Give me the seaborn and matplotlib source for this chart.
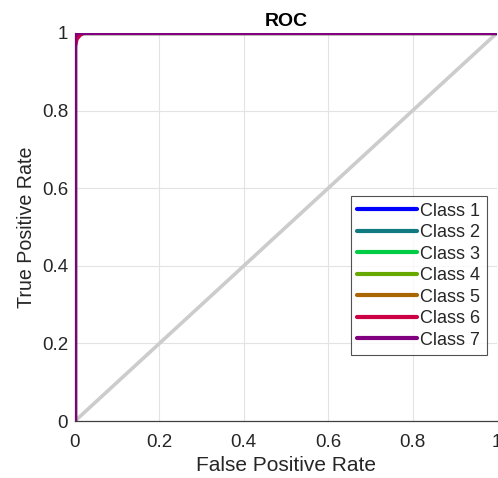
import matplotlib
matplotlib.use("Agg")
import matplotlib.pyplot as plt
import pandas as pd
import seaborn as sns

# ROC points for each class (false positive rate, true positive rate)
classes = ["Class 1", "Class 2", "Class 3", "Class 4", "Class 5", "Class 6", "Class 7"]
fpr_c1 = [0.0, 0.0, 0.002, 0.006, 1.0]
tpr_c1 = [0.0, 0.985, 0.995, 1.0, 1.0]
fpr_c2 = [0.0, 0.0, 0.003, 0.007, 1.0]
tpr_c2 = [0.0, 0.982, 0.994, 1.0, 1.0]
fpr_c3 = [0.0, 0.0, 0.002, 0.005, 1.0]
tpr_c3 = [0.0, 0.988, 0.996, 1.0, 1.0]
fpr_c4 = [0.0, 0.0, 0.003, 0.006, 1.0]
tpr_c4 = [0.0, 0.984, 0.995, 1.0, 1.0]
fpr_c5 = [0.0, 0.0, 0.002, 0.006, 1.0]
tpr_c5 = [0.0, 0.986, 0.995, 1.0, 1.0]
fpr_c6 = [0.0, 0.0, 0.004, 0.012, 0.02, 1.0]
tpr_c6 = [0.0, 0.965, 0.985, 0.995, 1.0, 1.0]
fpr_c7 = [0.0, 0.0, 0.002, 0.005, 1.0]
tpr_c7 = [0.0, 0.99, 0.997, 1.0, 1.0]
class_colors = ["#0000ff", "#117a80", "#00cc44", "#66aa00", "#aa6600", "#cc0044", "#800080"]
chance_x = [0.0, 1.0]
chance_y = [0.0, 1.0]


def main():
    fprs = [fpr_c1, fpr_c2, fpr_c3, fpr_c4, fpr_c5, fpr_c6, fpr_c7]
    tprs = [tpr_c1, tpr_c2, tpr_c3, tpr_c4, tpr_c5, tpr_c6, tpr_c7]
    rows = []
    for name, fx, ty in zip(classes, fprs, tprs):
        for a, b in zip(fx, ty):
            rows.append({"Class": name, "FPR": a, "TPR": b})
    df = pd.DataFrame(rows)

    sns.set_style("white")
    plt.rcParams["font.family"] = ["Liberation Sans", "DejaVu Sans"]

    fig = plt.figure(figsize=(4.98, 4.78), dpi=100)
    ax = fig.add_axes([0.1506, 0.1192, 0.8474, 0.8118])

    ax.grid(True, color="#e3e3e3", linewidth=0.8)
    ax.set_axisbelow(True)

    sns.lineplot(x=chance_x, y=chance_y, ax=ax, color="#cccccc", linewidth=2.6,
                 legend=False, zorder=2)
    sns.lineplot(data=df, x="FPR", y="TPR", hue="Class", units="Class",
                 estimator=None, sort=False, palette=class_colors,
                 linewidth=3, ax=ax, zorder=3)

    ax.set_xlim(0, 1)
    ax.set_ylim(0, 1)
    ticks = [0, 0.2, 0.4, 0.6, 0.8, 1]
    tick_labels = ["0", "0.2", "0.4", "0.6", "0.8", "1"]
    ax.set_xticks(ticks)
    ax.set_yticks(ticks)
    ax.set_xticklabels(tick_labels)
    ax.set_yticklabels(tick_labels)
    ax.tick_params(direction="in", length=4, labelsize=13.5, colors="#404040",
                   labelcolor="#262626")
    ax.tick_params(axis="x", pad=9)
    ax.tick_params(axis="y", pad=5)
    ax.spines["top"].set_visible(False)
    ax.spines["right"].set_visible(False)
    for s in ("left", "bottom"):
        ax.spines[s].set_color("#404040")
        ax.spines[s].set_linewidth(0.9)

    ax.set_xlabel("False Positive Rate", fontsize=15, color="#262626", labelpad=4)
    ax.set_ylabel("True Positive Rate", fontsize=14.1, color="#262626", labelpad=4.5)
    ax.set_title("ROC", fontsize=14, fontweight="bold", color="black", pad=5)

    leg = ax.legend(loc="lower right", bbox_to_anchor=(0.976, 0.170),
                    fontsize=13, handlelength=3.3, labelspacing=0.25,
                    frameon=True, fancybox=False, borderpad=0.35,
                    handletextpad=0.2, borderaxespad=0)
    leg.get_frame().set_edgecolor("#262626")
    leg.get_frame().set_linewidth(0.8)

    fig.savefig("out.png", dpi=100)


if __name__ == "__main__":
    main()
